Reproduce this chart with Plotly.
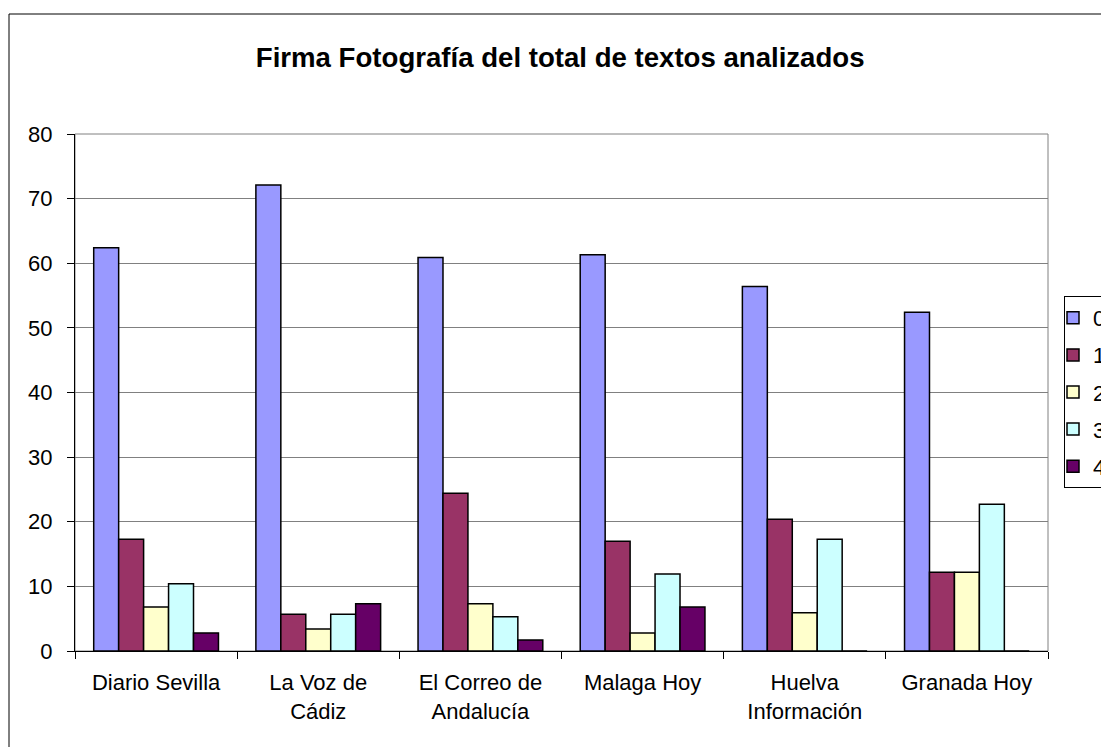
import plotly.graph_objects as go

categories = ["Diario Sevilla", "La Voz de<br>Cádiz", "El Correo de<br>Andalucía",
              "Malaga Hoy", "Huelva<br>Información", "Granada Hoy"]
series_names = ["0", "1", "2", "3", "4"]
s0 = [62.4, 72.1, 60.9, 61.3, 56.4, 52.4]
s1 = [17.3, 5.7, 24.4, 17.0, 20.4, 12.2]
s2 = [6.8, 3.4, 7.3, 2.8, 5.9, 12.2]
s3 = [10.4, 5.7, 5.3, 11.9, 17.3, 22.7]
s4 = [2.8, 7.3, 1.7, 6.8, 0, 0]
colors = ["#9999FF", "#993366", "#FFFFCC", "#CCFFFF", "#660066"]
y_ticks = [0, 10, 20, 30, 40, 50, 60, 70, 80]

FONT = "Liberation Sans, Arial, sans-serif"
OFF = 8  # page body margin
W, H = 1109 - OFF, 747 - OFF
# plot area in page pixels
PL, PR, PT, PB = 75, 1048, 134, 651
L, R, T, B = PL - OFF, PR - OFF, PT - OFF, PB - OFF

fig = go.Figure()
for name, vals, col in zip(series_names, [s0, s1, s2, s3, s4], colors):
    fig.add_trace(go.Bar(
        x=categories, y=vals, name=name, legendgroup=name,
        marker=dict(color=col, line=dict(color="black", width=1.5)),
    ))

def px_x(p):
    return (p - OFF - L) / (R - L)

def px_y(p):
    return (B - (p - OFF)) / (B - T)

fig.update_layout(
    width=W, height=H,
    margin=dict(l=L, r=W - R, t=T, b=H - B, pad=0, autoexpand=False),
    paper_bgcolor="white", plot_bgcolor="white",
    font=dict(family=FONT, size=22, color="black"),
    barmode="group", bargap=1.5 / 6.5, bargroupgap=0,
    title=dict(text="<b>Firma Fotografía del total de textos analizados</b>",
               font=dict(family=FONT, size=27.6, color="black"),
               x=(557 - OFF) / W, xref="paper", xanchor="center",
               y=1 - (57 - OFF) / H, yanchor="middle"),
    legend=dict(x=px_x(1064), xanchor="left", y=px_y(392), yanchor="middle",
                bordercolor="black", borderwidth=1, bgcolor="white",
                font=dict(family=FONT, size=22, color="black"),
                traceorder="grouped", tracegroupgap=5.5, itemwidth=30,
                indentation=-12),
    xaxis=dict(type="category", showline=True, linecolor="black", linewidth=1,
               ticks="outside", tickson="boundaries", ticklen=7, tickcolor="black",
               showgrid=False, tickfont=dict(family=FONT, size=22, color="black"),
               zeroline=False, ticklabelstandoff=12),
    yaxis=dict(range=[0, 80], tickvals=y_ticks, showline=True, linecolor="black",
               linewidth=1, ticks="outside", ticklen=7, tickcolor="black",
               showgrid=True, gridcolor="#808080", gridwidth=1,
               tickfont=dict(family=FONT, size=22, color="black"),
               zeroline=False, ticklabelstandoff=10),
    shapes=[
        dict(type="rect", xref="paper", yref="paper", x0=0, x1=1, y0=0, y1=1,
             line=dict(color="#808080", width=1), layer="below"),
        dict(type="rect", xref="paper", yref="paper",
             x0=px_x(9), x1=px_x(1108), y0=px_y(14), y1=px_y(780),
             line=dict(color="black", width=1), fillcolor="rgba(0,0,0,0)"),
    ],
)

fig.write_html("out.html")
